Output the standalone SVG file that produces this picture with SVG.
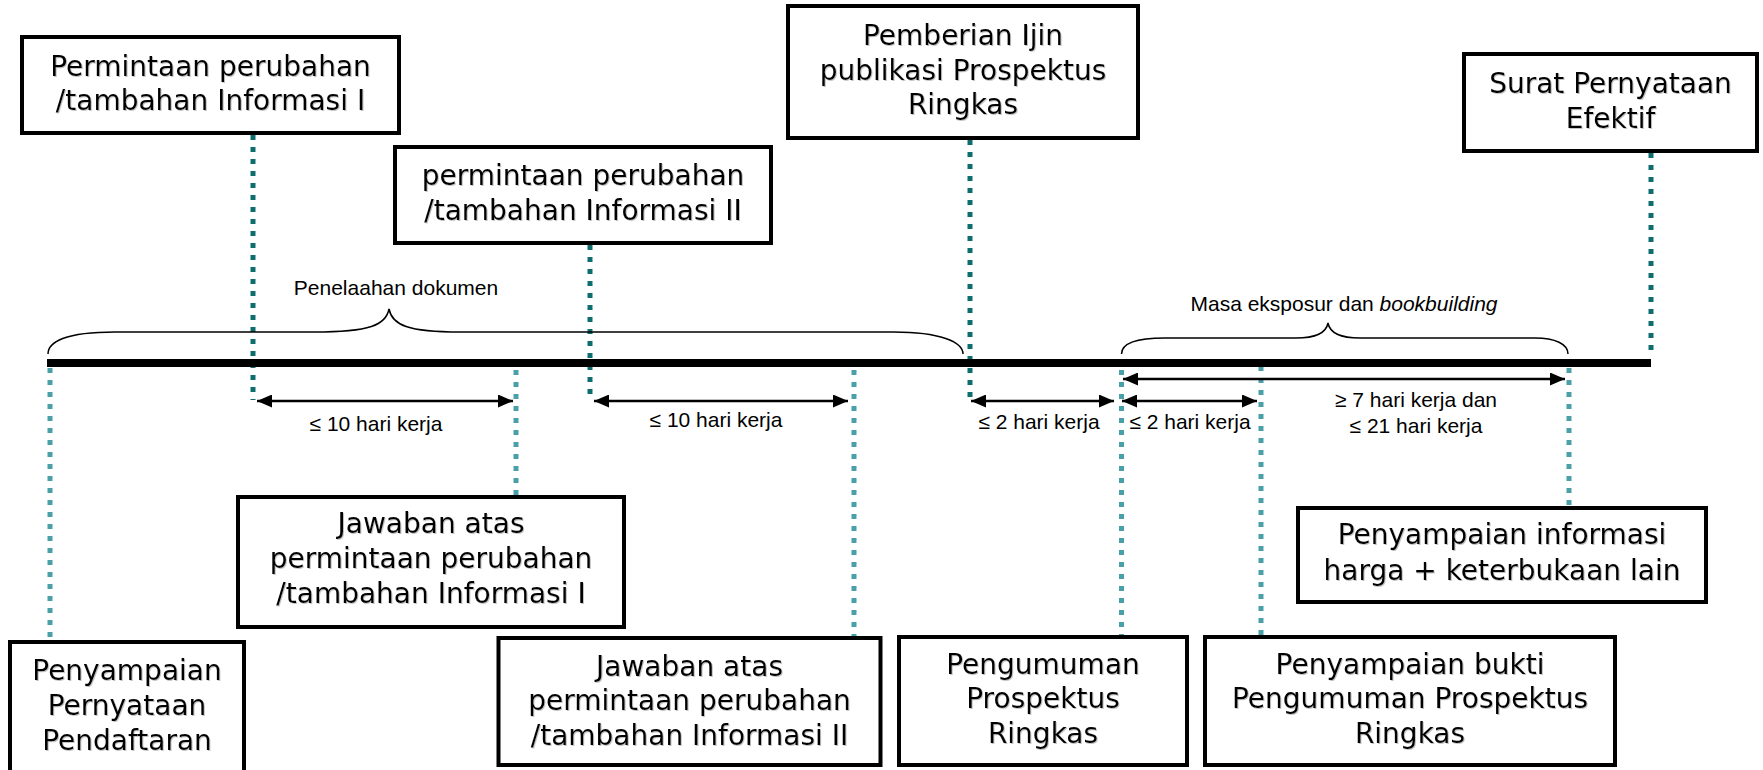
<svg xmlns="http://www.w3.org/2000/svg" width="1763" height="770" viewBox="0 0 1763 770">
<style>
.box{fill:#fff;stroke:#000;stroke-width:4}
.bt{font-family:'DejaVu Sans',sans-serif;font-size:28px;fill:#000;text-anchor:middle;filter:url(#sh)}
.lbl{font-family:'Liberation Sans',Arial,sans-serif;font-size:21px;fill:#000;text-anchor:middle}
.blbl{font-family:'Liberation Sans',Arial,sans-serif;font-size:21px;fill:#000;text-anchor:middle}
.dk{stroke:#0e6e6e;stroke-width:5;stroke-dasharray:5 7;fill:none}
.lt{stroke:#4aa0a8;stroke-width:5;stroke-dasharray:5 7;fill:none}
.arr{stroke:#000;stroke-width:2.5;fill:none;marker-start:url(#ah);marker-end:url(#ah)}
.brace{stroke:#000;stroke-width:1.5;fill:none}
</style>
<defs>
<marker id="ah" viewBox="0 0 15 13" refX="15" refY="6.5" markerWidth="15" markerHeight="13" markerUnits="userSpaceOnUse" orient="auto-start-reverse">
<path d="M0,0 L15,6.5 L0,13 z" fill="#000"/>
</marker>
<filter id="sh" x="-5%" y="-20%" width="110%" height="140%">
<feDropShadow dx="1" dy="1" stdDeviation="0.6" flood-color="#888" flood-opacity="0.5"/>
</filter>
</defs>
<g id="connectors">
<line class="dk" x1="253" y1="135" x2="253" y2="400"/>
<line class="dk" x1="590" y1="245" x2="590" y2="400"/>
<line class="dk" x1="970" y1="140" x2="970" y2="400"/>
<line class="dk" x1="1651" y1="153" x2="1651" y2="357"/>
<line class="lt" x1="50" y1="368" x2="50" y2="642"/>
<line class="lt" x1="516" y1="370" x2="516" y2="497"/>
<line class="lt" x1="854" y1="370" x2="854" y2="638"/>
<line class="lt" x1="1121.5" y1="370" x2="1121.5" y2="637"/>
<line class="lt" x1="1261" y1="366" x2="1261" y2="637"/>
<line class="lt" x1="1569" y1="368" x2="1569" y2="508"/>
<line x1="47" y1="363" x2="1651" y2="363" stroke="#000" stroke-width="8"/>
<path class="brace" d="M48,354 C48,342 65,332 115,332 L314,332 C370,332 386,325 389,309 C392,325 408,332 460,332 L894,332 C940,332 963,342 963,354"/>
<path class="brace" d="M1121.5,354 C1121.5,344 1135,338 1165,338 L1296,338 C1315,338 1326,334 1328,323 C1330,334 1341,338 1360,338 L1535,338 C1555,338 1568,344 1568,354"/>
<line class="arr" x1="257" y1="401" x2="513" y2="401"/>
<line class="arr" x1="594" y1="401" x2="848" y2="401"/>
<line class="arr" x1="971" y1="401" x2="1114" y2="401"/>
<line class="arr" x1="1123" y1="379" x2="1565" y2="379"/>
<line class="arr" x1="1122" y1="401" x2="1257" y2="401"/>
<text class="blbl" x="396" y="295">Penelaahan dokumen</text>
<text class="blbl" x="1344" y="311">Masa eksposur dan <tspan font-style="italic">bookbuilding</tspan></text>
<text class="lbl" x="376" y="431">≤ 10 hari kerja</text>
<text class="lbl" x="716" y="427">≤ 10 hari kerja</text>
<text class="lbl" x="1039" y="429">≤ 2 hari kerja</text>
<text class="lbl" x="1190" y="429">≤ 2 hari kerja</text>
<text class="lbl" x="1416" y="407">≥ 7 hari kerja dan</text>
<text class="lbl" x="1416" y="433">≤ 21 hari kerja</text>
</g>
<g id="n1"><rect class="box" x="22" y="37" width="377" height="96"/>
<text class="bt" x="210.5" y="76">Permintaan perubahan</text><text class="bt" x="210.5" y="110">/tambahan Informasi I</text></g>
<g id="n2"><rect class="box" x="395" y="147" width="376" height="96"/>
<text class="bt" x="583" y="185">permintaan perubahan</text><text class="bt" x="583" y="220">/tambahan Informasi II</text></g>
<g id="n3"><rect class="box" x="788" y="6" width="350" height="132"/>
<text class="bt" x="963" y="45">Pemberian Ijin</text><text class="bt" x="963" y="80">publikasi Prospektus</text><text class="bt" x="963" y="114">Ringkas</text></g>
<g id="n4"><rect class="box" x="1464" y="54" width="293" height="97"/>
<text class="bt" x="1610.5" y="93">Surat Pernyataan</text><text class="bt" x="1610.5" y="128">Efektif</text></g>
<g id="n5"><rect class="box" x="238" y="497" width="386" height="130"/>
<text class="bt" x="431" y="533">Jawaban atas</text><text class="bt" x="431" y="568">permintaan perubahan</text><text class="bt" x="431" y="603">/tambahan Informasi I</text></g>
<g id="n6"><rect class="box" x="10" y="642" width="234" height="140"/>
<text class="bt" x="127" y="680">Penyampaian</text><text class="bt" x="127" y="715">Pernyataan</text><text class="bt" x="127" y="750">Pendaftaran</text></g>
<g id="n7"><rect class="box" x="498.5" y="638" width="382" height="127"/>
<text class="bt" x="689.5" y="676">Jawaban atas</text><text class="bt" x="689.5" y="710">permintaan perubahan</text><text class="bt" x="689.5" y="745">/tambahan Informasi II</text></g>
<g id="n8"><rect class="box" x="899" y="637" width="288" height="128"/>
<text class="bt" x="1043" y="674">Pengumuman</text><text class="bt" x="1043" y="708">Prospektus</text><text class="bt" x="1043" y="743">Ringkas</text></g>
<g id="n9"><rect class="box" x="1205" y="637" width="410" height="128"/>
<text class="bt" x="1410" y="674">Penyampaian bukti</text><text class="bt" x="1410" y="708">Pengumuman Prospektus</text><text class="bt" x="1410" y="743">Ringkas</text></g>
<g id="n10"><rect class="box" x="1298" y="508" width="408" height="94"/>
<text class="bt" x="1502" y="544">Penyampaian informasi</text><text class="bt" x="1502" y="580">harga + keterbukaan lain</text></g>
</svg>
